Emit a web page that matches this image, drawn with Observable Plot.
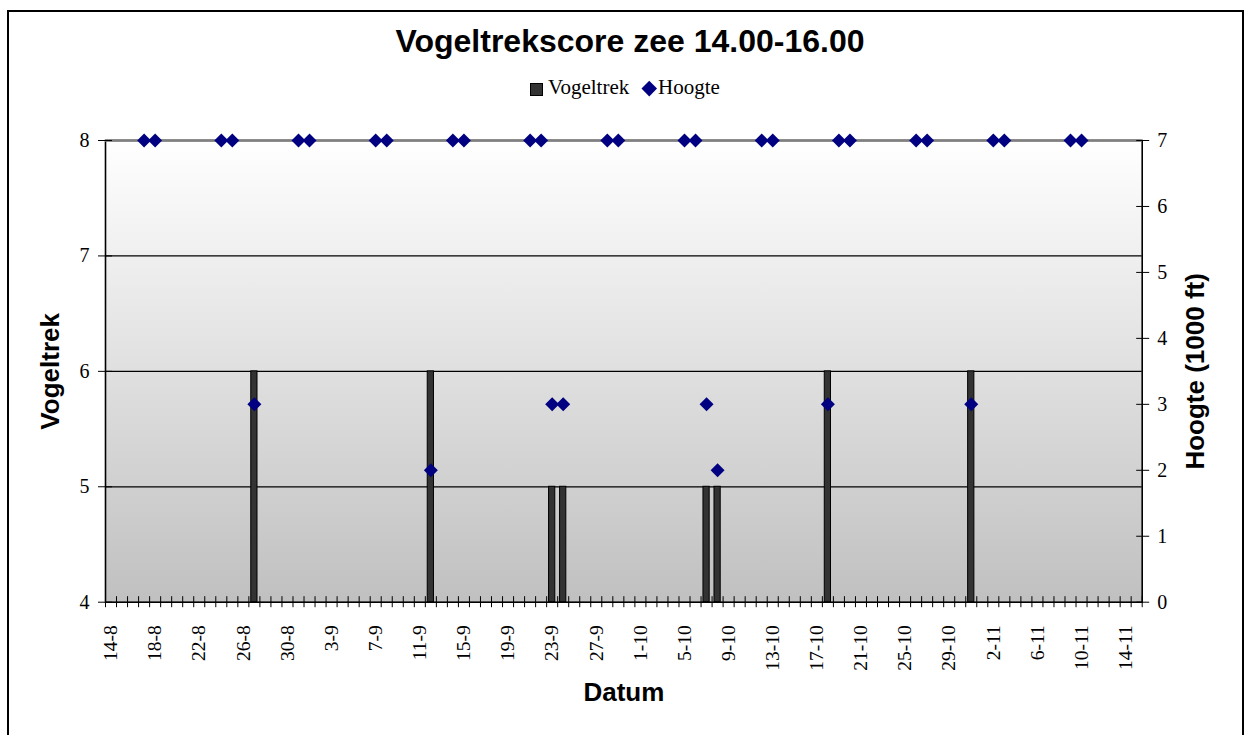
<!DOCTYPE html>
<html><head><meta charset="utf-8">
<script src="https://cdn.jsdelivr.net/npm/d3@7"></script>
<script src="https://cdn.jsdelivr.net/npm/@observablehq/plot@0.6"></script>
<style>
body{margin:0;background:#fff;}
#wrap{position:relative;width:1250px;height:735px;overflow:hidden;background:#fff;}
#border{position:absolute;left:7px;top:10px;width:1237px;height:760px;border:2px solid #000;box-sizing:border-box;pointer-events:none;z-index:5;}
#title{position:absolute;left:0;width:1260px;top:25px;text-align:center;font:bold 32px/32px "Liberation Sans",Arial,sans-serif;color:#000;white-space:nowrap;}
.lg{position:absolute;font:21px/21px "Liberation Serif","Times New Roman",serif;color:#000;white-space:nowrap;}
#sq{position:absolute;left:530px;top:83px;width:13px;height:13px;background:#333;border:1px solid #000;box-sizing:border-box;}
#dm{position:absolute;left:643.5px;top:83px;width:10.5px;height:10.5px;background:#000080;transform:rotate(45deg);}
#chart{position:absolute;left:0;top:100px;}
</style></head>
<body>
<div id="wrap">
  <div id="title">Vogeltrekscore zee 14.00-16.00</div>
  <div id="sq"></div><div class="lg" style="left:548px;top:77px;">Vogeltrek</div>
  <div id="dm"></div><div class="lg" style="left:658px;top:77px;">Hoogte</div>
  <div id="chart"></div>
  <div id="border"></div>
</div>
<script>
// categories: every day from 14-8 to 15-11
const categories = d3.timeDay.range(new Date(2000, 7, 14), new Date(2000, 10, 16))
  .map(d => `${d.getDate()}-${d.getMonth() + 1}`);

const tickLabels = ["14-8","18-8","22-8","26-8","30-8","3-9","7-9","11-9","15-9","19-9","23-9","27-9",
  "1-10","5-10","9-10","13-10","17-10","21-10","25-10","29-10","2-11","6-11","10-11","14-11"];

const vogeltrekTicks = [4, 5, 6, 7, 8];
const hoogteTicks = [0, 1, 2, 3, 4, 5, 6, 7];

// Vogeltrek series
const trekDates  = ["27-8","12-9","23-9","24-9","7-10","8-10","18-10","31-10"];
const trekValues = [6, 6, 5, 5, 5, 5, 6, 6];

// Hoogte series (1000 ft)
const hoogteDates = ["17-8","18-8","24-8","25-8","27-8","31-8","1-9","7-9","8-9","12-9","14-9","15-9",
  "21-9","22-9","23-9","24-9","28-9","29-9","5-10","6-10","7-10","8-10","12-10","13-10","18-10",
  "19-10","20-10","26-10","27-10","31-10","2-11","3-11","9-11","10-11"];
const hoogteValues = [7,7,7,7,3,7,7,7,7,2,7,7,
  7,7,3,3,7,7,7,7,3,2,7,7,3,
  7,7,7,7,3,7,7,7,7];

const trek = trekDates.map((d, i) => ({date: d, value: trekValues[i]}));
const hoogte = hoogteDates.map((d, i) => ({date: d, h: hoogteValues[i]}));

// secondary axis mapping: Hoogte 0..7 onto Vogeltrek 4..8
const yMin = 4, yMax = 8, hMax = 7;
const toY = h => yMin + h * (yMax - yMin) / hMax;

const W = 1250, H = 635, mL = 105, mR = 108.3, mT = 40, mB = 133.3;
const bw = (W - mL - mR) / categories.length;
const serif = "'Liberation Serif','Times New Roman',serif";
const sans = "'Liberation Sans',Arial,sans-serif";

const chart = Plot.plot({
  width: W, height: H,
  marginLeft: mL, marginRight: mR, marginTop: mT, marginBottom: mB,
  style: {fontFamily: serif, fontSize: "20px", color: "#000", background: "transparent", overflow: "visible"},
  x: {type: "band", domain: categories, padding: 0, round: false, axis: null},
  y: {domain: [yMin, yMax], axis: null},
  marks: [
    Plot.frame({fill: "url(#bggrad)"}),
    Plot.ruleY(vogeltrekTicks.filter(v => v > yMin && v < yMax), {stroke: "#000", strokeWidth: 1.2}),
    Plot.barY(trek, {x: "date", y1: yMin, y2: "value", fill: "#333333", stroke: "#000", strokeWidth: 1, insetLeft: 2.4, insetRight: 2.4}),
    Plot.frame({stroke: "#000", strokeWidth: 1.6}),
    Plot.ruleY([yMax], {stroke: "#808080", strokeWidth: 2.5}),
    // left axis
    Plot.axisY(vogeltrekTicks, {anchor: "left", tickSize: 14, dx: 7, tickFormat: () => "", label: null}),
    Plot.axisY(vogeltrekTicks, {anchor: "left", tickSize: 0, tickPadding: 16, label: null, fontSize: 20, fontFamily: serif,
      tickFormat: v => String(v)}),
    // right axis
    Plot.axisY(hoogteTicks.map(toY), {anchor: "right", tickSize: 13, dx: -6.5, tickFormat: () => "", label: null}),
    Plot.axisY(hoogteTicks.map(toY), {anchor: "right", tickSize: 0, tickPadding: 15, label: null, fontSize: 20, fontFamily: serif,
      tickFormat: v => String(Math.round((v - yMin) * hMax / (yMax - yMin)))}),
    // x axis: ticks at category boundaries
    Plot.axisX(categories, {anchor: "bottom", tickSize: 11, dy: -5.5, dx: -bw / 2, tickFormat: () => "", label: null}),
    Plot.axisX(categories.slice(-1), {anchor: "bottom", tickSize: 11, dy: -5.5, dx: bw / 2, tickFormat: () => "", label: null}),
    Plot.axisX(tickLabels, {anchor: "bottom", tickSize: 0, tickPadding: 23, tickRotate: -90, label: null, fontSize: 19.5, fontFamily: serif}),
    // axis titles
    Plot.text(["Vogeltrek"], {text: d => d, frameAnchor: "left", textAnchor: "middle", dx: -55, rotate: -90, fontFamily: sans, fontWeight: "bold", fontSize: 26, fill: "#000"}),
    Plot.text(["Hoogte (1000 ft)"], {text: d => d, frameAnchor: "right", textAnchor: "middle", dx: 53, rotate: -90, fontFamily: sans, fontWeight: "bold", fontSize: 26, fill: "#000"}),
    Plot.text(["Datum"], {text: d => d, frameAnchor: "bottom", dy: 99, fontFamily: sans, fontWeight: "bold", fontSize: 26, fill: "#000"}),
    // Hoogte diamonds
    Plot.dot(hoogte, {x: "date", y: d => toY(d.h), symbol: "diamond2", r: 6.3, fill: "#000080"})
  ]
});

d3.select(chart).insert("defs", ":first-child").html(
  '<linearGradient id="bggrad" x1="0" y1="0" x2="0" y2="1">' +
  '<stop offset="0" stop-color="#ffffff"/><stop offset="1" stop-color="#c0c0c0"/></linearGradient>');

document.getElementById("chart").appendChild(chart);
</script>
</body></html>
